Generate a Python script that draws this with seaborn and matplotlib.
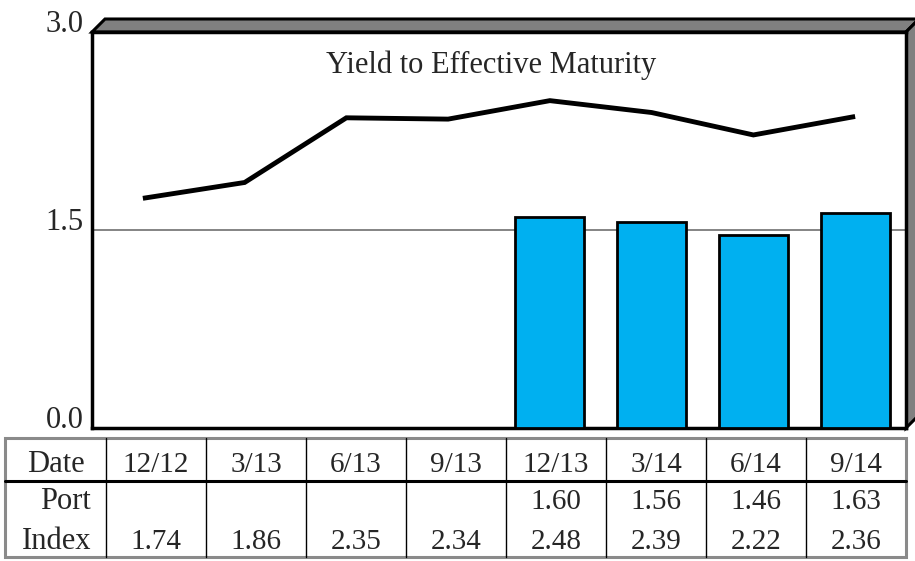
import seaborn as sns
import matplotlib.pyplot as plt
import matplotlib.patches as mpatches
import numpy as np
import pandas as pd

sns.set_style("white")
plt.rcParams['font.family'] = ['Liberation Serif', 'DejaVu Serif']

# Data
dates = ["12/12", "3/13", "6/13", "9/13", "12/13", "3/14", "6/14", "9/14"]
port = [np.nan, np.nan, np.nan, np.nan, 1.60, 1.56, 1.46, 1.63]
index = [1.74, 1.86, 2.35, 2.34, 2.48, 2.39, 2.22, 2.36]
yticks = [0.0, 1.5, 3.0]

df = pd.DataFrame({"Date": dates, "Port": port, "Index": index})

W, H = 915, 561
fig = plt.figure(figsize=(W / 100, H / 100), dpi=100)

def fx(px):
    return px / W

def fy(py):
    return 1 - py / H

# plot box in pixel coords
L, R, T, B = 92, 906, 32, 428
D = 13  # depth of the shadow

top = mpatches.Polygon([(fx(L), fy(T)), (fx(L + D), fy(T - D)), (fx(R + D), fy(T - D)), (fx(R), fy(T))],
                       closed=True, transform=fig.transFigure, facecolor="#808080",
                       edgecolor="black", linewidth=2.2, zorder=0)
side = mpatches.Polygon([(fx(R), fy(T)), (fx(R + D), fy(T - D)), (fx(R + D), fy(B - D)), (fx(R), fy(B))],
                        closed=True, transform=fig.transFigure, facecolor="#808080",
                        edgecolor="black", linewidth=2.2, zorder=0)
fig.patches.extend([top, side])

ax = fig.add_axes([fx(L), fy(B), fx(R) - fx(L), fy(T) - fy(B)])
ax.set_zorder(1)

sns.barplot(data=df, x="Date", y="Port", order=dates, color="#00B0F0",
            saturation=1, width=0.68, edgecolor="black", linewidth=2, ax=ax, zorder=3)
ax.plot(np.arange(len(dates)), df["Index"], color="black", linewidth=3.5, zorder=4,
        solid_joinstyle="miter", solid_capstyle="butt")

ax.set_xlim(-0.5, len(dates) - 0.5)
ax.set_ylim(0, 3.0)
ax.axhline(1.5, color="#707070", linewidth=1.2, zorder=1)
ax.set_yticks(yticks)
ax.set_yticklabels([f"{v:.1f}" for v in yticks], fontsize=22)
for lbl in ax.get_yticklabels():
    lbl.set_verticalalignment("baseline")
ax.tick_params(axis="y", length=0, pad=6)
ax.set_xticks([])
ax.set_xlabel("")
ax.set_ylabel("")
for s in ax.spines.values():
    s.set_linewidth(2.5)
    s.set_color("black")
fig.text(fx(491), fy(73), "Yield to Effective Maturity", ha="center", va="baseline", fontsize=22)

# data table below the plot
tx0, tx1 = 5, 906
c0 = 106
colw = (tx1 - c0) / len(dates)
ty0, ty1, ty2 = 438, 481, 557

fig.patches.append(mpatches.Rectangle((fx(tx0), fy(ty2)), fx(tx1) - fx(tx0), fy(ty0) - fy(ty2),
                                      transform=fig.transFigure, fill=False,
                                      edgecolor="#8a8a8a", linewidth=2.2))
fig.add_artist(plt.Line2D([fx(tx0), fx(tx1)], [fy(ty1), fy(ty1)], color="black", linewidth=2.2))
for i in range(len(dates)):
    xx = c0 + i * colw
    fig.add_artist(plt.Line2D([fx(xx), fx(xx)], [fy(ty0), fy(ty2)], color="black", linewidth=1))

fs = 21
fig.text(fx((tx0 + c0) / 2), fy(472), "Date", ha="center", va="baseline", fontsize=fs + 1)
fig.text(fx(91), fy(509), "Port", ha="right", va="baseline", fontsize=fs + 1)
fig.text(fx(91), fy(549), "Index", ha="right", va="baseline", fontsize=fs + 1)
for i, d in enumerate(dates):
    cx = fx(c0 + (i + 0.5) * colw)
    fig.text(cx, fy(472), d, ha="center", va="baseline", fontsize=fs)
    if not np.isnan(port[i]):
        fig.text(cx, fy(509), f"{port[i]:.2f}", ha="center", va="baseline", fontsize=fs)
    fig.text(cx, fy(549), f"{index[i]:.2f}", ha="center", va="baseline", fontsize=fs)

plt.savefig("out.png", dpi=100)
